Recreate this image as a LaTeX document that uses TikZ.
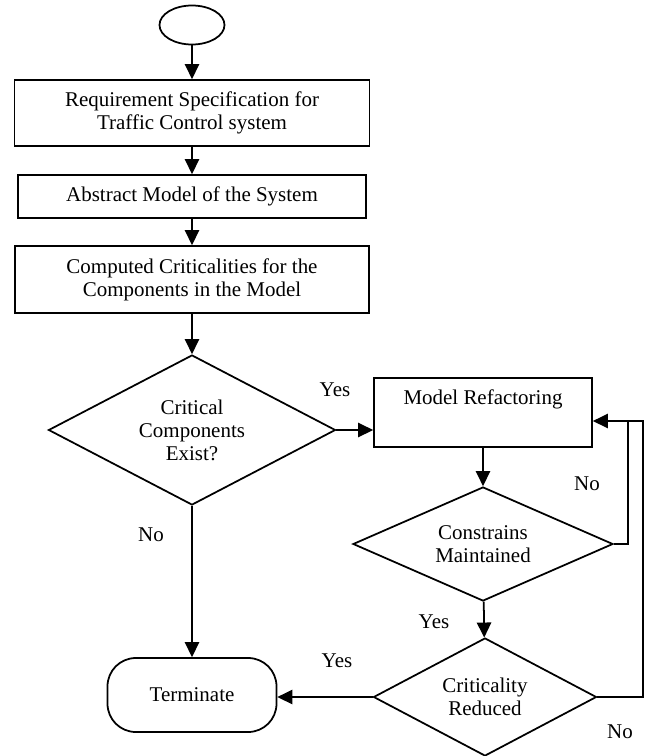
\documentclass[tikz,border=0pt]{standalone}
\usepackage{fontspec}
\setmainfont{Liberation Serif}
\usetikzlibrary{shapes.geometric,arrows.meta}

\begin{document}
\begin{tikzpicture}[x=0.03cm,y=-0.03cm,
  line width=1.5pt,
  >={Triangle[length=4.5mm,width=4.3mm]},
  every node/.style={font=\fontsize{17.9}{19.6}\selectfont},
  block/.style={draw,rectangle,align=center,inner sep=0pt},
  decision/.style={draw,diamond,aspect=2,align=center,inner sep=0pt}]
\useasboundingbox (0,0) rectangle (649,756);
%Kästen
  \node (start) at (192,25)
    [draw,ellipse,minimum width=1.95cm,minimum height=1.17cm]
    {};
  \node (req) at (192,113)
    [block,minimum width=10.65cm,minimum height=1.98cm]
    {Requirement Specification for\\Traffic Control system};
  \node (abs) at (192,196.5)
    [block,minimum width=10.44cm,minimum height=1.29cm]
    {Abstract Model of the System};
  \node (comp) at (192,279.5)
    [block,minimum width=10.62cm,minimum height=2.01cm]
    {Computed Criticalities for the\\Components in the Model};
  \node (refac) at (483,412.5)
    [block,minimum width=6.54cm,minimum height=2.07cm]
    {Model Refactoring\\\strut};
  \node (ende) at (192,695)
    [draw,rounded corners=0.85cm,minimum width=5.07cm,minimum height=2.22cm]
    {Terminate};
%Rauten
  \node (crit) at (192,430)
    [decision,minimum width=8.61cm,minimum height=4.5cm]
    {Critical\\Components\\Exist?};
  \node (cons) at (483,544)
    [decision,minimum width=7.8cm,minimum height=3.42cm]
    {Constrains\\Maintained};
  \node (red) at (485,697)
    [decision,minimum width=6.69cm,minimum height=3.54cm]
    {Criticality\\Reduced};
%Pfeile
  \draw[->] (start) -- (req);
  \draw[->] (req) -- (abs);
  \draw[->] (abs) -- (comp);
  \draw[->] (comp) -- (crit);
  \draw[->] (crit.east) -- (crit.east -| refac.west);
  \draw[->] (refac) -- (cons);
  \draw[->] (cons) -- (red);
  \draw[->] (crit) -- (ende);
  \draw[->] (red.west) -- (red.west -| ende.east);
%Rückführung
  \coordinate (k1) at (628,421);
  \coordinate (k2) at (643,421);
  \draw[->] (cons.east) -| (k1) -- (k1 -| refac.east);
  \draw (red.east) -| (k2) -- (k1);
%Beschriftung
  \node (ja1) at (335,390) {Yes};
  \node (nein1) at (151,535) {No};
  \node (nein2) at (587,484) {No};
  \node (ja2) at (434,622) {Yes};
  \node (ja3) at (337,661) {Yes};
  \node (nein3) at (620,732) {No};
\end{tikzpicture}
\end{document}
